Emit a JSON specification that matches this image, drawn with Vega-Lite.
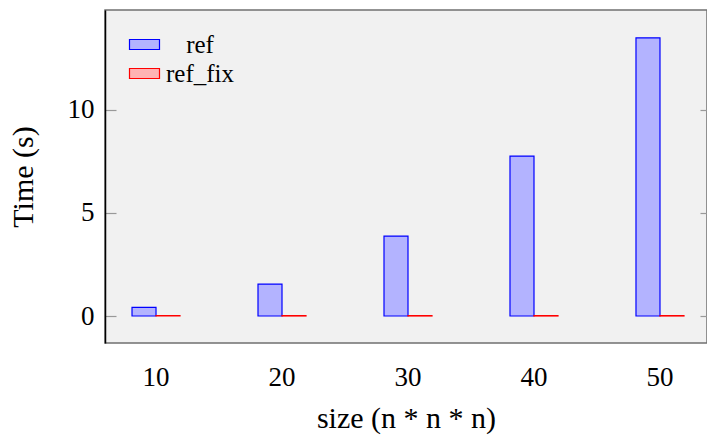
{
  "$schema": "https://vega.github.io/schema/vega-lite/v6.json",
  "width": 602,
  "height": 333,
  "padding": {"left": 105, "top": 10, "right": 0, "bottom": 93},
  "autosize": "none",
  "background": "white",
  "config": {
    "view": {"fill": "#f1f1f1", "stroke": "#707070", "strokeWidth": 1.5},
    "font": "Liberation Serif",
    "axis": {"labelFont": "Liberation Serif", "titleFont": "Liberation Serif"},
    "legend": {"labelFont": "Liberation Serif"}
  },
  "data": {
    "values": [
      {"size": "10", "series": "ref", "time": 0.42},
      {"size": "10", "series": "ref_fix", "time": 0.02},
      {"size": "20", "series": "ref", "time": 1.55},
      {"size": "20", "series": "ref_fix", "time": 0.02},
      {"size": "30", "series": "ref", "time": 3.88},
      {"size": "30", "series": "ref_fix", "time": 0.02},
      {"size": "40", "series": "ref", "time": 7.76},
      {"size": "40", "series": "ref_fix", "time": 0.02},
      {"size": "50", "series": "ref", "time": 13.5},
      {"size": "50", "series": "ref_fix", "time": 0.02}
    ]
  },
  "layer": [
    {
      "mark": {"type": "bar", "strokeWidth": 1.2},
      "encoding": {
        "x": {
          "field": "size", "type": "ordinal",
          "scale": {"paddingInner": 0.619, "paddingOuter": 0.1985, "align": 0.54},
          "axis": {
            "title": "size (n * n * n)", "labelAngle": 0, "ticks": false, "domain": false,
            "labelFontSize": 27, "labelColor": "#000", "labelPadding": 21,
            "titleFontSize": 30, "titleFontWeight": "normal", "titleColor": "#000", "titlePadding": 13
          }
        },
        "xOffset": {"field": "series", "type": "nominal", "scale": {"domain": ["ref", "ref_fix"], "paddingInner": 0, "paddingOuter": 0}},
        "y": {
          "field": "time", "type": "quantitative",
          "scale": {"domain": [-1.31, 14.85], "nice": false, "zero": false},
          "axis": {
            "title": "Time (s)", "values": [0, 5, 10], "grid": false,
            "tickSize": -11, "tickColor": "#999999", "tickWidth": 1.2,
            "domainColor": "#000000", "domainWidth": 1.5,
            "labelFontSize": 27, "labelColor": "#000", "labelPadding": 22,
            "titleFontSize": 30, "titleFontWeight": "normal", "titleColor": "#000", "titlePadding": 29
          }
        },
        "y2": {"datum": 0},
        "fill": {
          "field": "series", "type": "nominal",
          "scale": {"domain": ["ref", "ref_fix"], "range": ["#b3b3ff", "#ffb3b3"]},
          "legend": {
            "title": null, "orient": "none", "legendX": 27, "legendY": 22,
            "symbolType": "M-1.5,-0.5H1.5V0.5H-1.5Z", "symbolSize": 400,
            "labelFont": "Liberation Serif",
            "labelFontSize": 25, "labelColor": "#000", "labelAlign": "center", "labelOffset": 43,
            "rowPadding": 3, "symbolStrokeWidth": 1.2
          }
        },
        "stroke": {
          "field": "series", "type": "nominal",
          "scale": {"domain": ["ref", "ref_fix"], "range": ["#0000ff", "#ff0000"]},
          "legend": null
        }
      }
    },
    {
      "mark": {"type": "point", "opacity": 0},
      "encoding": {
        "y": {
          "field": "time", "type": "quantitative",
          "scale": {"domain": [-1.31, 14.85], "nice": false, "zero": false},
          "axis": {
            "orient": "right", "values": [0, 5, 10], "labels": false, "title": null,
            "domain": false, "grid": false, "ticks": true,
            "tickSize": -7, "tickColor": "#999999", "tickWidth": 1.2
          }
        }
      }
    }
  ],
  "resolve": {"scale": {"y": "independent"}, "axis": {"y": "independent"}}
}
